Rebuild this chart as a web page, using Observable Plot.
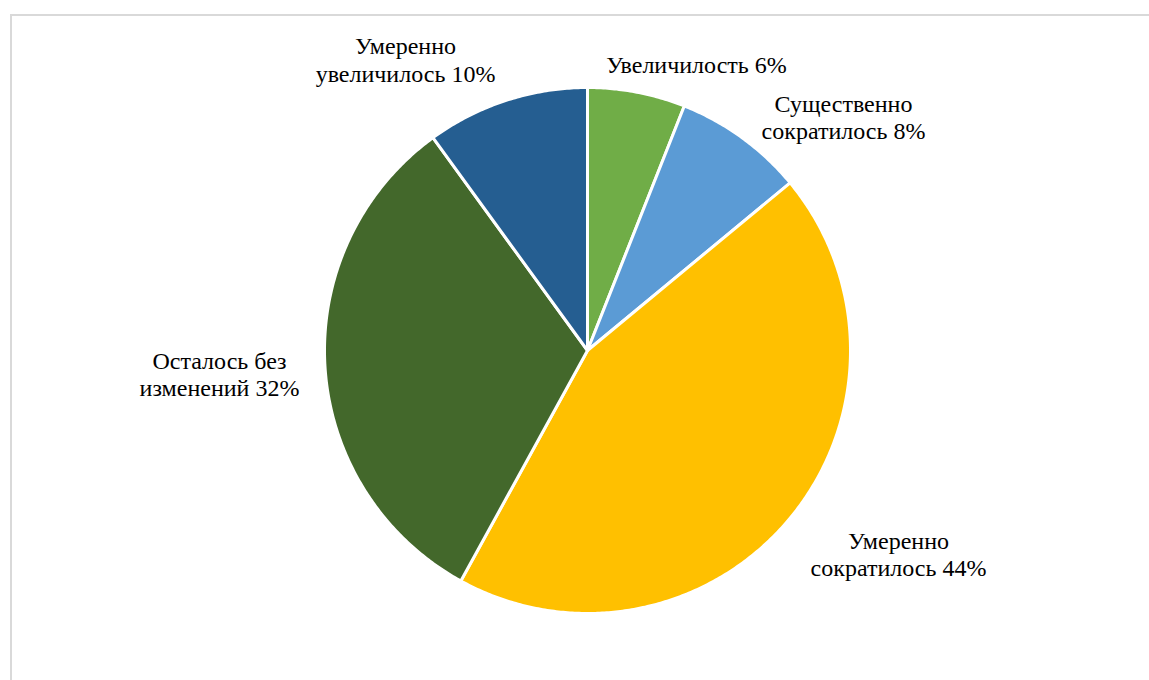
<!DOCTYPE html>
<html>
<head>
<meta charset="utf-8">
<script src="https://cdn.jsdelivr.net/npm/d3@7"></script>
<script src="https://cdn.jsdelivr.net/npm/@observablehq/plot@0.6"></script>
<style>
  html, body { margin: 0; padding: 0; background: #fff; overflow: hidden; }
  #wrap { position: relative; width: 1149px; height: 680px; overflow: hidden; }
  #frame { position: absolute; left: 10px; top: 14px; width: 1200px; height: 720px;
           border: 2px solid #d9d9d9; box-sizing: border-box; pointer-events: none; }
  #chart { position: absolute; left: 0; top: 0; }
</style>
</head>
<body>
<div id="wrap"><div id="chart"></div><div id="frame"></div></div>
<script>
// ---- data ----
const categories = ["Увеличилость", "Существенно сократилось", "Умеренно сократилось", "Осталось без изменений", "Умеренно увеличилось"];
const values = [6, 8, 44, 32, 10];
const labelTexts = ["Увеличилость 6%", "Существенно\nсократилось 8%", "Умеренно\nсократилось 44%", "Осталось без\nизменений 32%", "Умеренно\nувеличилось 10%"];

// ---- styles / layout ----
const colors = ["#70AD47", "#5B9BD5", "#FFC000", "#43682B", "#255E91"];
const W = 1149, H = 680;
const cx = 587, cy = 350, R = 263;
const labelPos = [[696, 64], [843, 116], [898, 553], [219, 373], [405, 58.5]];

// build slice polygons from values
const total = d3.sum(values);
let acc = 0;
const slices = values.map((v, i) => {
  const a0 = acc / total * 2 * Math.PI;
  acc += v;
  const a1 = acc / total * 2 * Math.PI;
  const pts = [{x: cx, y: cy}];
  const n = Math.max(8, Math.ceil((a1 - a0) / (Math.PI / 360)));
  for (let k = 0; k <= n; k++) {
    const a = a0 + (a1 - a0) * k / n;
    pts.push({x: cx + R * Math.sin(a), y: cy - R * Math.cos(a)});
  }
  pts.push({x: cx, y: cy});
  return {category: categories[i], pts};
});

const labels = labelTexts.map((t, i) => ({text: t, x: labelPos[i][0], y: labelPos[i][1]}));

const chart = Plot.plot({
  width: W,
  height: H,
  margin: 0,
  x: {domain: [0, W], range: [0, W], axis: null},
  y: {domain: [0, H], range: [0, H], axis: null},
  style: {background: "transparent"},
  marks: [
    ...slices.map((s, i) => Plot.line(s.pts, {
      x: "x", y: "y", fill: colors[i], stroke: "#ffffff", strokeWidth: 3,
      strokeLinejoin: "round", curve: "linear-closed"
    })),
    Plot.text(labels, {
      x: "x", y: "y", text: "text", fontSize: 24, lineHeight: 1.15,
      fontFamily: "Liberation Serif",
      textAnchor: "middle", fill: "#000000"
    })
  ]
});
document.getElementById("chart").appendChild(chart);
</script>
</body>
</html>
